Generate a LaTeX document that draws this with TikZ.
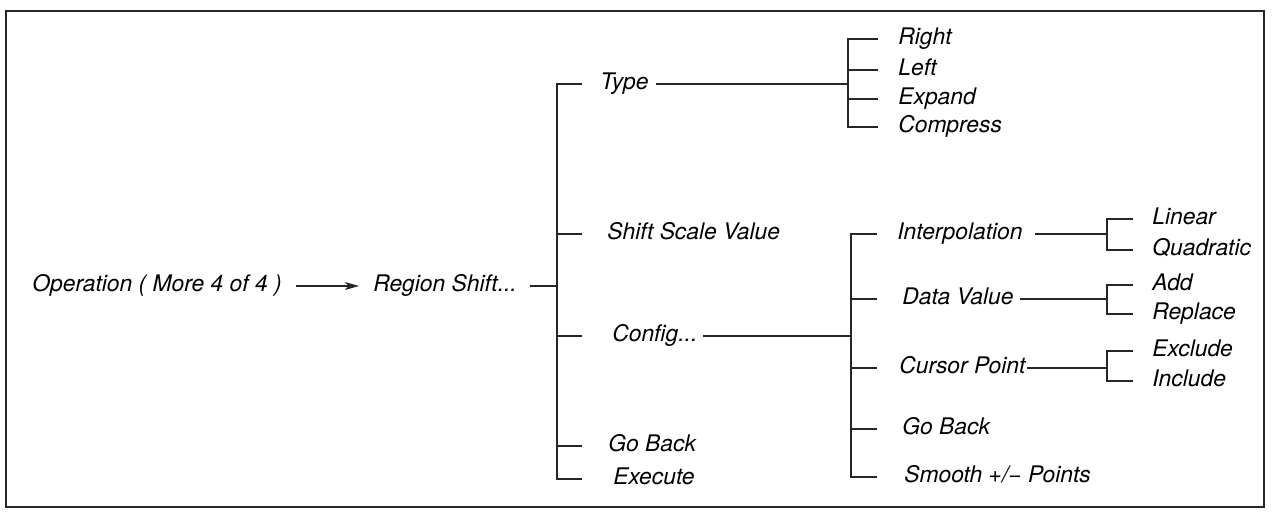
\documentclass[tikz,border=0pt]{standalone}
\usepackage{fontspec}
\setmainfont{TeX Gyre Heros}
\usepackage{tikz}
\usetikzlibrary{arrows.meta, calc}

\begin{document}
\begin{tikzpicture}[>=Stealth, x=0.02cm, y=-0.02cm,
  lbl/.style={anchor=west, inner sep=0pt, text height=9pt, text depth=2.5pt,
    font=\fontsize{13}{15}\selectfont\itshape},
  ln/.style={line width=0.6pt, black!85}]
  \useasboundingbox (0,0) rectangle (1272,512);
  \draw[ln] (6,11) rectangle (1264,507);
  % menu entry and sub menu
  \node[lbl] (op) at (32,286) {Operation ( More 4 of 4 )};
  \node[lbl] (rs) at (373,286) {Region Shift...};
  \draw[ln,-{Stealth[length=8pt,width=4.5pt,inset=2pt]},shorten <=0.28cm,shorten >=0.28cm]
    (op.east) -- (rs.west);
  \coordinate (trunk) at (557,286);
  \draw[ln,shorten <=0.26cm] (rs.east) -- (trunk);
  % first level
  \node[lbl] (type) at (600,84) {Type};
  \node[lbl] (ssv) at (607,234) {Shift Scale Value};
  \node[lbl] (cfg) at (612,336) {Config...};
  \node[lbl] (gb) at (608,446) {Go Back};
  \node[lbl] (exe) at (613,479) {Execute};
  \foreach \n/\g in {type/18,ssv/25,cfg/30,gb/26,exe/31}
    \draw[ln,shorten >=\g*0.02cm] (trunk) |- (\n.west);
  % type
  \node[lbl] (right) at (898,39) {Right};
  \node[lbl] (left) at (898,70) {Left};
  \node[lbl] (expand) at (898,99) {Expand};
  \node[lbl] (compress) at (898,127) {Compress};
  \coordinate (tj) at (848,84);
  \draw[ln,shorten <=0.14cm] (type.east) -- (tj);
  \foreach \n in {right,left,expand,compress}
    \draw[ln,shorten >=0.4cm] (tj) |- (\n.west);
  % config
  \node[lbl] (interp) at (897,234) {Interpolation};
  \node[lbl] (data) at (902,299) {Data Value};
  \node[lbl] (cursor) at (899,368) {Cursor Point};
  \node[lbl] (gb2) at (902,429) {Go Back};
  \node[lbl] (smooth) at (904,477) {Smooth +/− Points};
  \coordinate (cj) at (851,336);
  \draw[ln,shorten <=0.1cm] (cfg.east) -- (cj);
  \foreach \n/\g in {interp/20,data/25,cursor/22,gb2/25,smooth/27}
    \draw[ln,shorten >=\g*0.02cm] (cj) |- (\n.west);
  % third level
  \node[lbl] (linear) at (1152,219) {Linear};
  \node[lbl] (quad) at (1152,250) {Quadratic};
  \node[lbl] (add) at (1152,285) {Add};
  \node[lbl] (replace) at (1152,314) {Replace};
  \node[lbl] (exclude) at (1152,351) {Exclude};
  \node[lbl] (include) at (1152,381) {Include};
  \coordinate (ij) at (1107,234);
  \coordinate (dj) at (1107,299);
  \coordinate (kj) at (1107,368);
  \draw[ln,shorten <=0.24cm] (interp.east) -- (ij);
  \draw[ln,shorten <=0.12cm] (data.east) -- (dj);
  \draw[ln,shorten <=0.02cm] (cursor.east) -- (kj);
  \foreach \j/\a/\b in {ij/linear/quad,dj/add/replace,kj/exclude/include}{
    \draw[ln,shorten >=0.38cm] (\j) |- (\a.west);
    \draw[ln,shorten >=0.38cm] (\j) |- (\b.west);
  }
\end{tikzpicture}
\end{document}
